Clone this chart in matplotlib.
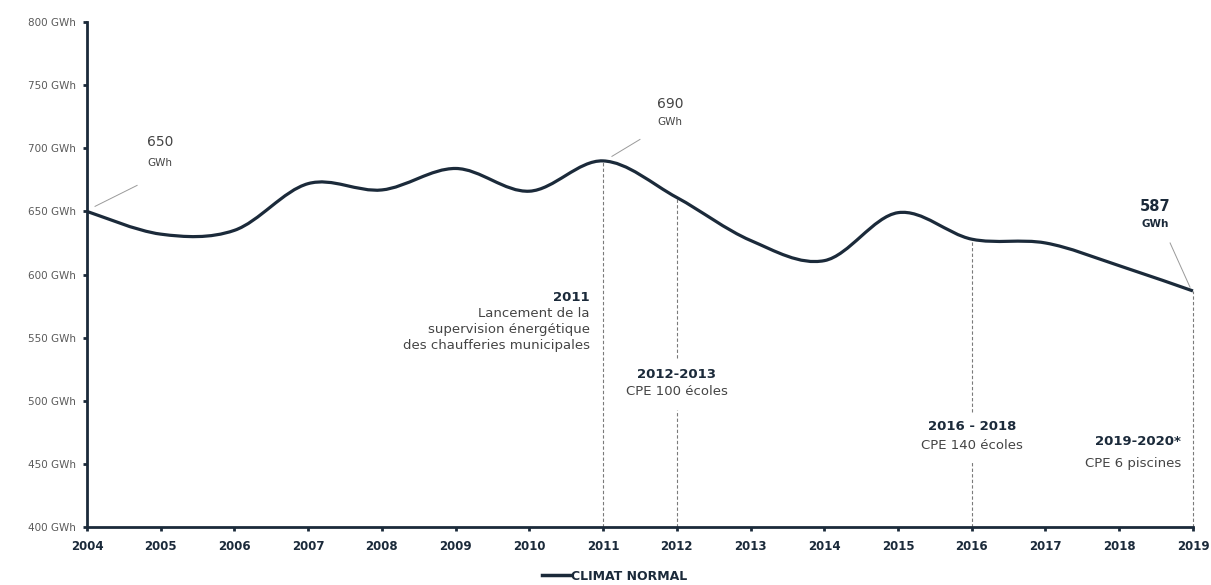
import matplotlib
matplotlib.use("Agg")
import matplotlib.pyplot as plt
from matplotlib.path import Path
from matplotlib.patches import PathPatch
from matplotlib.lines import Line2D

# Consommation (GWh), climat normal
years = [2004, 2005, 2006, 2007, 2008, 2009, 2010, 2011,
         2012, 2013, 2014, 2015, 2016, 2017, 2018, 2019]
gwh = [650, 632, 635, 672, 667, 684, 666, 690,
       661, 627, 611, 649, 628, 625, 607, 587]
y_ticks = [400, 450, 500, 550, 600, 650, 700, 750, 800]
y_labels = [f"{v} GWh" for v in y_ticks]

navy = "#1b2a3a"
grey_txt = "#444444"
dash_col = "#7a7a7a"

fig = plt.figure(figsize=(12.11, 5.85), dpi=100)
ax = fig.add_axes([0.0718, 0.099, 0.9133, 0.8634])

# smooth line (Catmull-Rom -> cubic Bezier), drawn as a path in data coords
pts = list(zip(years, gwh))
verts = [pts[0]]
codes = [Path.MOVETO]
for i in range(len(pts) - 1):
    p0 = pts[i - 1] if i > 0 else pts[i]
    p1 = pts[i]
    p2 = pts[i + 1]
    p3 = pts[i + 2] if i + 2 < len(pts) else pts[i + 1]
    c1 = (p1[0] + (p2[0] - p0[0]) / 6, p1[1] + (p2[1] - p0[1]) / 6)
    c2 = (p2[0] - (p3[0] - p1[0]) / 6, p2[1] - (p3[1] - p1[1]) / 6)
    verts += [c1, c2, p2]
    codes += [Path.CURVE4] * 3
ax.add_patch(PathPatch(Path(verts, codes), facecolor="none",
                       edgecolor=navy, lw=2.3, zorder=3, clip_on=False))

# dashed markers
dash_kw = dict(color=dash_col, lw=0.8, ls=(0, (3, 2)), zorder=2, clip_on=False)
ax.plot([2011, 2011], [400, gwh[7]], **dash_kw)
ax.plot([2012, 2012], [534, gwh[8]], **dash_kw)
ax.plot([2012, 2012], [400, 493], **dash_kw)
ax.plot([2016, 2016], [491, gwh[12]], **dash_kw)
ax.plot([2016, 2016], [400, 452], **dash_kw)
ax.plot([2019, 2019], [400, gwh[15]], **dash_kw)

# value callouts
lead_kw = dict(color="#9a9a9a", lw=0.7)
ax.plot([2004.11, 2004.68], [654, 670.6], **lead_kw)
ax.text(2004.99, 705, "650", ha="center", va="center", fontsize=10, color=grey_txt)
ax.text(2004.99, 688, "GWh", ha="center", va="center", fontsize=7.5, color=grey_txt)

ax.plot([2011.12, 2011.5], [693.6, 707], **lead_kw)
ax.text(2011.91, 735, "690", ha="center", va="center", fontsize=10, color=grey_txt)
ax.text(2011.91, 721, "GWh", ha="center", va="center", fontsize=7.5, color=grey_txt)

ax.plot([2018.69, 2018.96], [625, 590], **lead_kw)
ax.text(2018.49, 654, "587", ha="center", va="center", fontsize=10.5,
        fontweight="bold", color=navy)
ax.text(2018.49, 640, "GWh", ha="center", va="center", fontsize=7.5,
        fontweight="bold", color=navy)

# event notes
ax.text(2010.82, 581.5, "2011", ha="right", va="center", fontsize=9.5,
        fontweight="bold", color=navy)
ax.text(2010.82, 574, "Lancement de la\nsupervision énergétique\ndes chaufferies municipales",
        ha="right", va="top", fontsize=9.5, color=grey_txt, linespacing=1.3)

ax.text(2012, 521, "2012-2013", ha="center", va="center", fontsize=9.5,
        fontweight="bold", color=navy)
ax.text(2012, 507, "CPE 100 écoles", ha="center", va="center", fontsize=9.5,
        color=grey_txt)

ax.text(2016, 480, "2016 - 2018", ha="center", va="center", fontsize=9.5,
        fontweight="bold", color=navy)
ax.text(2016, 465, "CPE 140 écoles", ha="center", va="center", fontsize=9.5,
        color=grey_txt)

ax.text(2018.84, 468, "2019-2020*", ha="right", va="center", fontsize=9.5,
        fontweight="bold", color=navy)
ax.text(2018.84, 450, "CPE 6 piscines", ha="right", va="center", fontsize=9.5,
        color=grey_txt)

# axes
ax.set_xlim(2004, 2019)
ax.set_ylim(400, 800)
ax.set_xticks(years)
ax.set_xticklabels([str(y) for y in years], fontsize=8.5, fontweight="bold", color=navy)
ax.set_yticks(y_ticks)
ax.set_yticklabels(y_labels, fontsize=7.5, color="#5a5a5a")
ax.tick_params(axis="both", direction="out", length=3, width=2, color=navy)
ax.tick_params(axis="x", pad=6)
ax.tick_params(axis="y", pad=5)
for s in ["top", "right"]:
    ax.spines[s].set_visible(False)
for s in ["left", "bottom"]:
    ax.spines[s].set_linewidth(2)
    ax.spines[s].set_color(navy)
    ax.spines[s].set_zorder(4)

handle = Line2D([], [], color=navy, lw=2.5, label="CLIMAT NORMAL")
leg = ax.legend(handles=[handle], loc="upper center", bbox_to_anchor=(0.477, -0.062),
                frameon=False, handlelength=2.2, handletextpad=0.1,
                prop={"weight": "bold", "size": 9})
for t in leg.get_texts():
    t.set_color(navy)

fig.savefig("out.png", dpi=100)
